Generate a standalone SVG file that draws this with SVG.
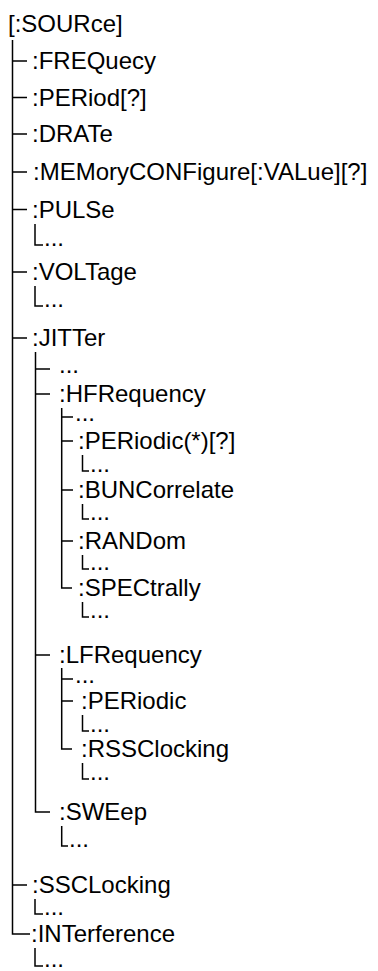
<svg xmlns="http://www.w3.org/2000/svg" width="378" height="971" viewBox="0 0 378 971">
<style>
text{font-family:"Liberation Sans",Arial,Helvetica,sans-serif;font-size:24px;fill:#000}
.c{stroke:#000;stroke-width:1.5;fill:none}
</style>
<rect width="378" height="971" fill="#fff"/>
<g id="connectors" class="c">
<path d="M12.5 40V934H30"/>
<path d="M12.5 61H27M12.5 97.5H27M12.5 134H27M12.5 172H27M12.5 209.5H27M12.5 272H27M12.5 338H27M12.5 885H27"/>
<path d="M35 224V245H43"/>
<path d="M35 286V306H43"/>
<path d="M35.5 352V812H50"/>
<path d="M35.5 369H50M35.5 394H50M35.5 655H50"/>
<path d="M61.7 408V588H72"/>
<path d="M61.7 417H73M61.7 441H73M61.7 490H73M61.7 541H73"/>
<path d="M82.5 455V471H89"/>
<path d="M82.5 504V519H89"/>
<path d="M82.5 555V569H89"/>
<path d="M82.5 602V617H89"/>
<path d="M61.7 668V749H72"/>
<path d="M61.7 679H73M61.7 701H73"/>
<path d="M82.5 715V731H89"/>
<path d="M82.5 763V779H89"/>
<path d="M61.7 826V846H68"/>
<path d="M35 899V914H43"/>
<path d="M35 948V966H43"/>
</g>
<g id="source"><text x="8" y="32">[:SOURce]</text></g>
<g id="frequecy"><text x="32" y="69">:FREQuecy</text></g>
<g id="period"><text x="32" y="106">:PERiod[?]</text></g>
<g id="drate"><text x="32" y="142">:DRATe</text></g>
<g id="memoryconfigure"><text x="33" y="180">:MEMoryCONFigure[:VALue][?]</text></g>
<g id="pulse"><text x="32" y="218">:PULSe</text><text x="44" y="246">...</text></g>
<g id="voltage"><text x="32" y="280">:VOLTage</text><text x="44" y="307">...</text></g>
<g id="jitter"><text x="32" y="346">:JITTer</text></g>
<g id="jitter-more"><text x="59" y="373">...</text></g>
<g id="hfrequency"><text x="59" y="402">:HFRequency</text></g>
<g id="hf-more"><text x="75" y="421">...</text></g>
<g id="hf-periodic"><text x="78" y="449">:PERiodic(*)[?]</text><text x="90" y="472">...</text></g>
<g id="hf-buncorrelate"><text x="78" y="498">:BUNCorrelate</text><text x="90" y="520">...</text></g>
<g id="hf-random"><text x="78" y="549">:RANDom</text><text x="90" y="570">...</text></g>
<g id="hf-spectrally"><text x="78" y="596">:SPECtrally</text><text x="90" y="618">...</text></g>
<g id="lfrequency"><text x="59" y="663">:LFRequency</text></g>
<g id="lf-more"><text x="75" y="683">...</text></g>
<g id="lf-periodic"><text x="81" y="709">:PERiodic</text><text x="90" y="732">...</text></g>
<g id="lf-rssclocking"><text x="81" y="757">:RSSClocking</text><text x="90" y="780">...</text></g>
<g id="sweep"><text x="59" y="820">:SWEep</text><text x="69" y="847">...</text></g>
<g id="sscloking"><text x="32" y="893">:SSCLocking</text><text x="44" y="915">...</text></g>
<g id="interference"><text x="31" y="942">:INTerference</text><text x="44" y="967">...</text></g>
</svg>
